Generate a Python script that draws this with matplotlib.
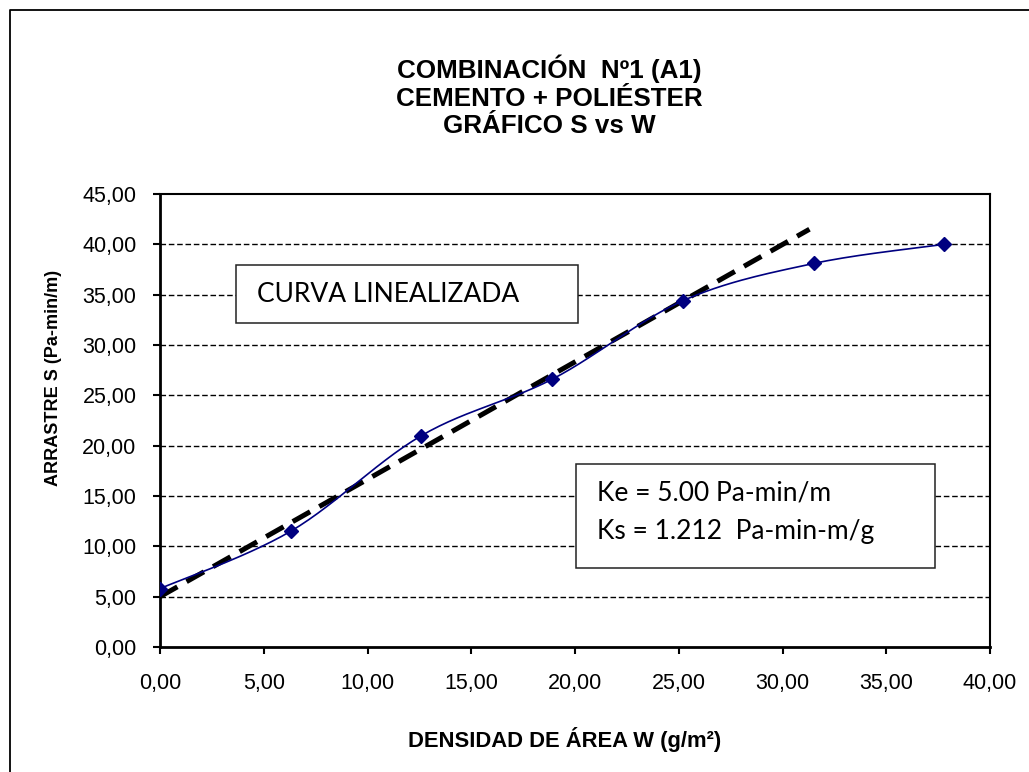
import numpy as np
import matplotlib
matplotlib.use("Agg")
import matplotlib.pyplot as plt
from matplotlib.lines import Line2D
from matplotlib.patches import Rectangle

# data
W = [0.0, 6.3, 12.6, 18.9, 25.2, 31.5, 37.8]
S = [5.8, 11.5, 21.0, 26.6, 34.4, 38.1, 40.0]
W_fit = [0.0, 31.3]
S_fit = [5.0, 41.5]

x_ticks = [0, 5, 10, 15, 20, 25, 30, 35, 40]
y_ticks = [0, 5, 10, 15, 20, 25, 30, 35, 40, 45]

title_lines = ["COMBINACIÓN  Nº1 (A1)", "CEMENTO + POLIÉSTER", "GRÁFICO S vs W"]
xlabel = "DENSIDAD DE ÁREA W (g/m²)"
ylabel = "ARRASTRE S (Pa-min/m)"
box1_text = "CURVA LINEALIZADA"
box2_lines = ["Ke = 5.00 Pa-min/m", "Ks = 1.212  Pa-min-m/g"]

W_PX, H_PX = 1029, 772
ARIAL = "Liberation Sans"
CALIBRI = "Lato"


def fx(px):
    return px / W_PX


def fy(py):
    return 1 - py / H_PX


def smooth(xs, ys, n=30):
    # Excel-like smoothed line (bezier through the points, catmull-rom tangents)
    xs = np.asarray(xs, float)
    ys = np.asarray(ys, float)
    pts = np.column_stack([xs, ys])
    out = []
    for i in range(len(pts) - 1):
        p0 = pts[max(i - 1, 0)]
        p1 = pts[i]
        p2 = pts[i + 1]
        p3 = pts[min(i + 2, len(pts) - 1)]
        c1 = p1 + (p2 - p0) / 6
        c2 = p2 - (p3 - p1) / 6
        t = np.linspace(0, 1, n)[:, None]
        seg = ((1 - t) ** 3 * p1 + 3 * (1 - t) ** 2 * t * c1
               + 3 * (1 - t) * t ** 2 * c2 + t ** 3 * p2)
        out.append(seg if i == 0 else seg[1:])
    out = np.vstack(out)
    return out[:, 0], out[:, 1]


fig = plt.figure(figsize=(W_PX / 100, H_PX / 100), dpi=100)
ax = fig.add_axes([fx(160), fy(647), fx(990) - fx(160), fy(194) - fy(647)])

ax.set_xlim(0, 40)
ax.set_ylim(0, 45)
ax.set_xticks(x_ticks)
ax.set_yticks(y_ticks)
ax.set_xticklabels([f"{v:.2f}".replace(".", ",") for v in x_ticks],
                   family=ARIAL, fontsize=15.5)
ax.set_yticklabels([f"{v:.2f}".replace(".", ",") for v in y_ticks],
                   family=ARIAL, fontsize=15.5)
ax.tick_params(direction="out", length=5, width=1.5, color="black")
ax.tick_params(axis="x", pad=14)
ax.tick_params(axis="y", pad=12)

for v in y_ticks[1:-1]:
    ax.axhline(v, color="black", lw=1.0, ls=(0, (4, 2)), zorder=1)

for side in ["left", "bottom"]:
    ax.spines[side].set_linewidth(2.0)
for side in ["top", "right"]:
    ax.spines[side].set_linewidth(1.5)

# fitted (linearized) line
ax.plot(W_fit, S_fit, color="black", lw=3.6, ls=(0, (4.0, 2.1)), zorder=3)

# measured data, smoothed like Excel
xs, ys = smooth(W, S)
ax.plot(xs, ys, color="#000080", lw=1.2, zorder=4)
ax.plot(W, S, ls="none", marker="D", ms=7.5, color="#000080", zorder=5)

# title
for i, line in enumerate(title_lines):
    fig.text(fx(549), fy(78 + 27.5 * i), line, ha="center", va="baseline",
             family=ARIAL, fontsize=18.7, fontweight="bold")

fig.text(fx(565), fy(747), xlabel, ha="center", va="baseline",
         family=ARIAL, fontsize=15.8, fontweight="bold")
fig.text(fx(54), fy(378), ylabel, ha="center", va="center", rotation=90,
         family=ARIAL, fontsize=13, fontweight="bold")

# text boxes
fig.patches.append(Rectangle((fx(236), fy(323)), fx(578) - fx(236), fy(265) - fy(323),
                             transform=fig.transFigure, facecolor="white",
                             edgecolor="#222222", lw=1.1, zorder=6))
fig.text(fx(257), fy(295), box1_text, ha="left", va="center",
         family=CALIBRI, fontsize=19, zorder=7)

fig.patches.append(Rectangle((fx(576), fy(568)), fx(935) - fx(576), fy(464) - fy(568),
                             transform=fig.transFigure, facecolor="white",
                             edgecolor="#222222", lw=1.1, zorder=6))
for i, line in enumerate(box2_lines):
    fig.text(fx(597), fy(493 + 38 * i), line, ha="left", va="center",
             family=CALIBRI, fontsize=19, zorder=7)

# outer chart border (left and top edges only are visible)
fig.add_artist(Line2D([fx(10), fx(10), 1.0], [0.0, fy(10), fy(10)],
                      transform=fig.transFigure, color="black", lw=1.3))

fig.savefig("out.png", dpi=100)
